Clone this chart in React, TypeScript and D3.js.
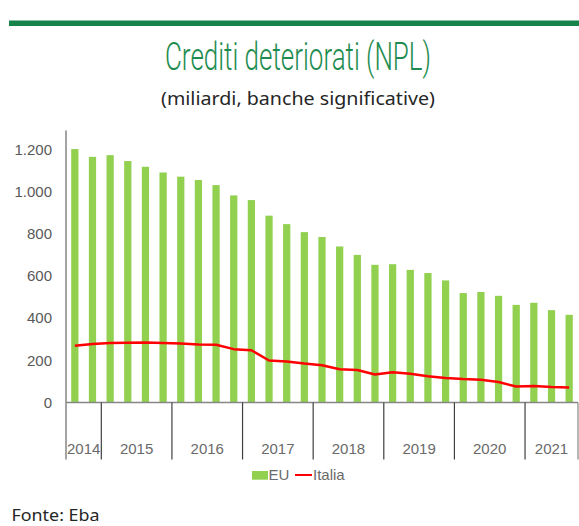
import React from "react";
import * as d3 from "d3";

const quarters = [
  "2014Q3", "2014Q4",
  "2015Q1", "2015Q2", "2015Q3", "2015Q4",
  "2016Q1", "2016Q2", "2016Q3", "2016Q4",
  "2017Q1", "2017Q2", "2017Q3", "2017Q4",
  "2018Q1", "2018Q2", "2018Q3", "2018Q4",
  "2019Q1", "2019Q2", "2019Q3", "2019Q4",
  "2020Q1", "2020Q2", "2020Q3", "2020Q4",
  "2021Q1", "2021Q2", "2021Q3",
];
const euValues = [1202, 1165, 1173, 1145, 1118, 1091, 1071, 1055, 1031, 982, 960, 886, 846, 808, 785, 740, 700, 653, 656, 629, 614, 579, 519, 524, 506, 463, 473, 438, 416];
const italiaValues = [269, 278, 282, 283, 285, 282, 280, 275, 274, 253, 248, 199, 195, 185, 177, 158, 154, 133, 143, 136, 125, 116, 111, 108, 97, 76, 78, 73, 71];
const yearLabels = ["2014", "2015", "2016", "2017", "2018", "2019", "2020", "2021"];
const yTicks = [0, 200, 400, 600, 800, 1000, 1200];

const W = 579, H = 526;
const x0 = 66, x1 = 578, yZero = 402.5, yTop = 130.5, catBottom = 459.5;

export default function App() {
  const x = d3.scaleBand<string>().domain(quarters).range([x0, x1]).paddingInner(0.59).paddingOuter(0.295);
  const y = d3.scaleLinear().domain([0, 1290]).range([yZero, yTop]);
  const fmt = d3.formatLocale({ thousands: ".", grouping: [3], decimal: ",", currency: ["", "€"] }).format(",d");
  const line = d3.line<number>()
    .x((_, i) => (x(quarters[i]) as number) + x.bandwidth() / 2)
    .y((d) => y(d));

  const step = x.step();
  const years = yearLabels.map((yr) => {
    const idx = quarters.map((q, i) => (q.startsWith(yr) ? i : -1)).filter((i) => i >= 0);
    const start = x0 + idx[0] * step;
    const end = x0 + (idx[idx.length - 1] + 1) * step;
    return { yr, start, end };
  });

  const grey = "#595959";
  const axisGrey = "#868686";
  const font = "'Liberation Sans', Arial, sans-serif";
  const textFont = "'Noto Sans', 'Open Sans', sans-serif";

  return (
    <svg width={W} height={H} style={{ position: "absolute", left: 0, top: 0, background: "#fff" }}>
      <rect x={9} y={20.5} width={W - 9} height={5.5} fill="#15834a" />
      <text x={298} y={70} textAnchor="middle" fontFamily="Roboto, sans-serif" fontWeight={300} fontSize={39}
        fill="#1e8c50" textLength={266} lengthAdjust="spacingAndGlyphs">Crediti deteriorati (NPL)</text>
      <text x={298} y={104.5} textAnchor="middle" fontFamily={textFont} fontWeight={400} fontSize={18}
        fill="#262626" textLength={274} lengthAdjust="spacingAndGlyphs">(miliardi, banche significative)</text>

      {euValues.map((v, i) => (
        <rect key={quarters[i]} x={x(quarters[i])} y={y(v)} width={x.bandwidth()} height={yZero - y(v)} fill="#92d050" />
      ))}

      <path d={line(italiaValues) || ""} fill="none" stroke="#ff0000" strokeWidth={2.5} strokeLinejoin="round" />

      {yTicks.map((t) => (
        <text key={t} x={52} y={y(t)} dy="0.35em" textAnchor="end" fontFamily={font} fontSize={15} fill={grey}>{fmt(t)}</text>
      ))}

      <line x1={x0} x2={x0} y1={yTop} y2={catBottom} stroke={axisGrey} strokeWidth={1.5} />
      <line x1={x0} x2={x1} y1={yZero} y2={yZero} stroke={axisGrey} strokeWidth={1.5} />
      {years.map((yy) => (
        <g key={yy.yr}>
          <line x1={yy.end} x2={yy.end} y1={yZero} y2={catBottom} stroke={yy.end >= x1 - 1 ? axisGrey : "#404040"} strokeWidth={1.2} />
          <text x={(yy.start + yy.end) / 2} y={454} textAnchor="middle" fontFamily={font} fontSize={15} fill="#6a6a6a">{yy.yr}</text>
        </g>
      ))}

      <rect x={252} y={471} width={16} height={8.7} fill="#92d050" />
      <text x={268.5} y={479.5} fontFamily={font} fontSize={15} fill="#6a6a6a">EU</text>
      <line x1={295} x2={312} y1={475} y2={475} stroke="#ff0000" strokeWidth={2} />
      <text x={313} y={479.5} fontFamily={font} fontSize={15} fill="#6a6a6a">Italia</text>

      <text x={11.5} y={520.5} fontFamily={textFont} fontWeight={400} fontSize={16.5} fill="#262626"
        textLength={88} lengthAdjust="spacingAndGlyphs">Fonte: Eba</text>
    </svg>
  );
}
